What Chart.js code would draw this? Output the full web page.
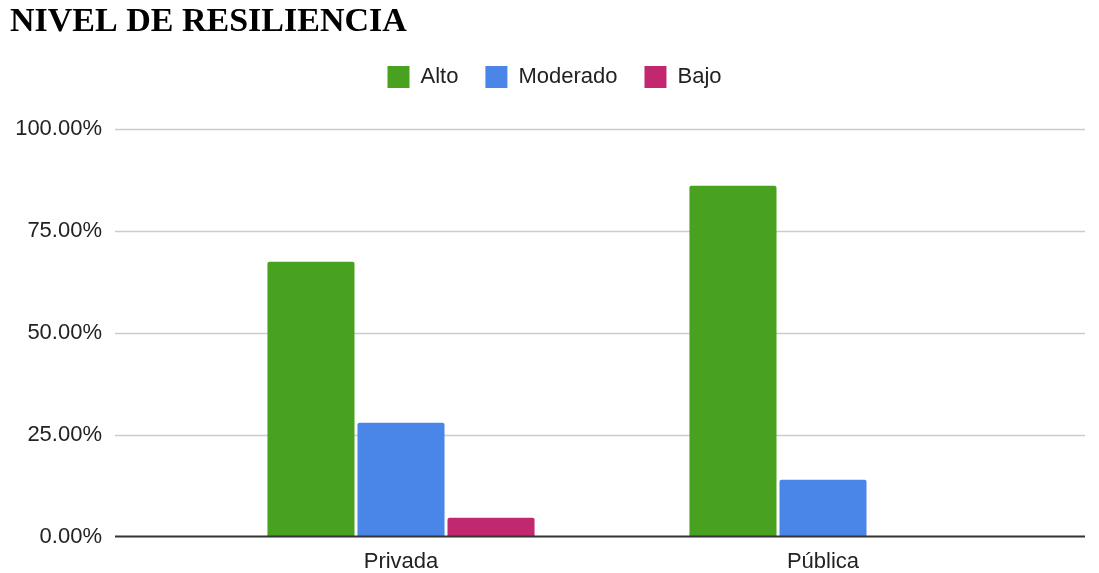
<!DOCTYPE html>
<html lang="es">
<head>
<meta charset="UTF-8">
<title>Nivel de resiliencia</title>
<script src="https://cdn.jsdelivr.net/npm/chart.js"></script>
<style>
  html, body { margin: 0; padding: 0; background: #fff; overflow: hidden; }
  canvas { display: block; }
</style>
</head>
<body>
<canvas id="chart" width="1099" height="573"></canvas>
<script>
// values (percent)
const categories = ['Privada', 'Pública'];
const seriesNames = ['Alto', 'Moderado', 'Bajo'];
const alto = [67.44, 86.05];
const moderado = [27.91, 13.95];
const bajo = [4.65, 0];
const yTickStep = 25;
const colors = ['#48a21f', '#4a86e8', '#c2286f'];

const sans = "'Liberation Sans', Arial, sans-serif";

// horizontal grid lines run wider than the category area, like the original
const wideGrid = {
  id: 'wideGrid',
  beforeDatasetsDraw(chart) {
    const y = chart.scales.y;
    const ctx = chart.ctx;
    ctx.save();
    ctx.strokeStyle = '#cccccc';
    ctx.lineWidth = 1.5;
    y.ticks.forEach(t => {
      if (t.value === 0) return;
      const py = Math.round(y.getPixelForValue(t.value)) + 0.5;
      ctx.beginPath();
      ctx.moveTo(115, py);
      ctx.lineTo(1085, py);
      ctx.stroke();
    });
    ctx.restore();
  },
  afterDatasetsDraw(chart) {
    const y = chart.scales.y;
    const ctx = chart.ctx;
    const py = y.getPixelForValue(0);
    ctx.save();
    ctx.strokeStyle = '#333333';
    ctx.lineWidth = 2;
    ctx.beginPath();
    ctx.moveTo(115, py);
    ctx.lineTo(1085, py);
    ctx.stroke();
    ctx.restore();
  }
};

// extra room between legend and plot
const legendGap = {
  id: 'legendGap',
  beforeInit(chart) {
    const fit = chart.legend.fit;
    chart.legend.fit = function () {
      fit.bind(chart.legend)();
      this.height += 31;
    };
  }
};

const seriesData = [alto, moderado, bajo];

new Chart(document.getElementById('chart'), {
  type: 'bar',
  data: {
    labels: categories,
    datasets: seriesNames.map((name, i) => ({
      label: name,
      data: seriesData[i],
      backgroundColor: colors[i],
      borderRadius: 2,
      categoryPercentage: 0.64,
      barPercentage: 0.967
    }))
  },
  options: {
    responsive: false,
    animation: false,
    layout: { padding: { left: 10, right: 0, top: 0, bottom: -14 } },
    plugins: {
      title: {
        display: true,
        text: 'NIVEL DE RESILIENCIA',
        align: 'start',
        color: '#000',
        font: { family: "'Liberation Serif', 'Times New Roman', serif", size: 34, weight: 'bold', lineHeight: 1 },
        padding: { top: 5, bottom: 0 }
      },
      legend: {
        position: 'top',
        labels: {
          color: '#222',
          font: { family: sans, size: 22 },
          boxWidth: 22,
          boxHeight: 22,
          padding: 27
        }
      },
      tooltip: { enabled: false }
    },
    scales: {
      x: {
        grid: { display: false, drawTicks: false },
        border: { display: false },
        ticks: { color: '#222', font: { family: sans, size: 22 }, padding: 12 }
      },
      y: {
        min: 0,
        max: 100,
        afterFit(scale) { scale.width = 180; },
        grid: {
          display: true,
          drawOnChartArea: false,
          drawTicks: true,
          tickLength: 75,
          color: 'rgba(0,0,0,0)'
        },
        border: { display: false },
        ticks: {
          stepSize: yTickStep,
          color: '#222',
          font: { family: sans, size: 22 },
          padding: 13,
          callback: v => v.toFixed(2) + '%'
        }
      },
      yRight: {
        position: 'right',
        afterFit(scale) { scale.width = 65; },
        grid: { display: false, drawTicks: false },
        border: { display: false },
        ticks: { display: false }
      }
    }
  },
  plugins: [wideGrid, legendGap]
});
</script>
</body>
</html>
